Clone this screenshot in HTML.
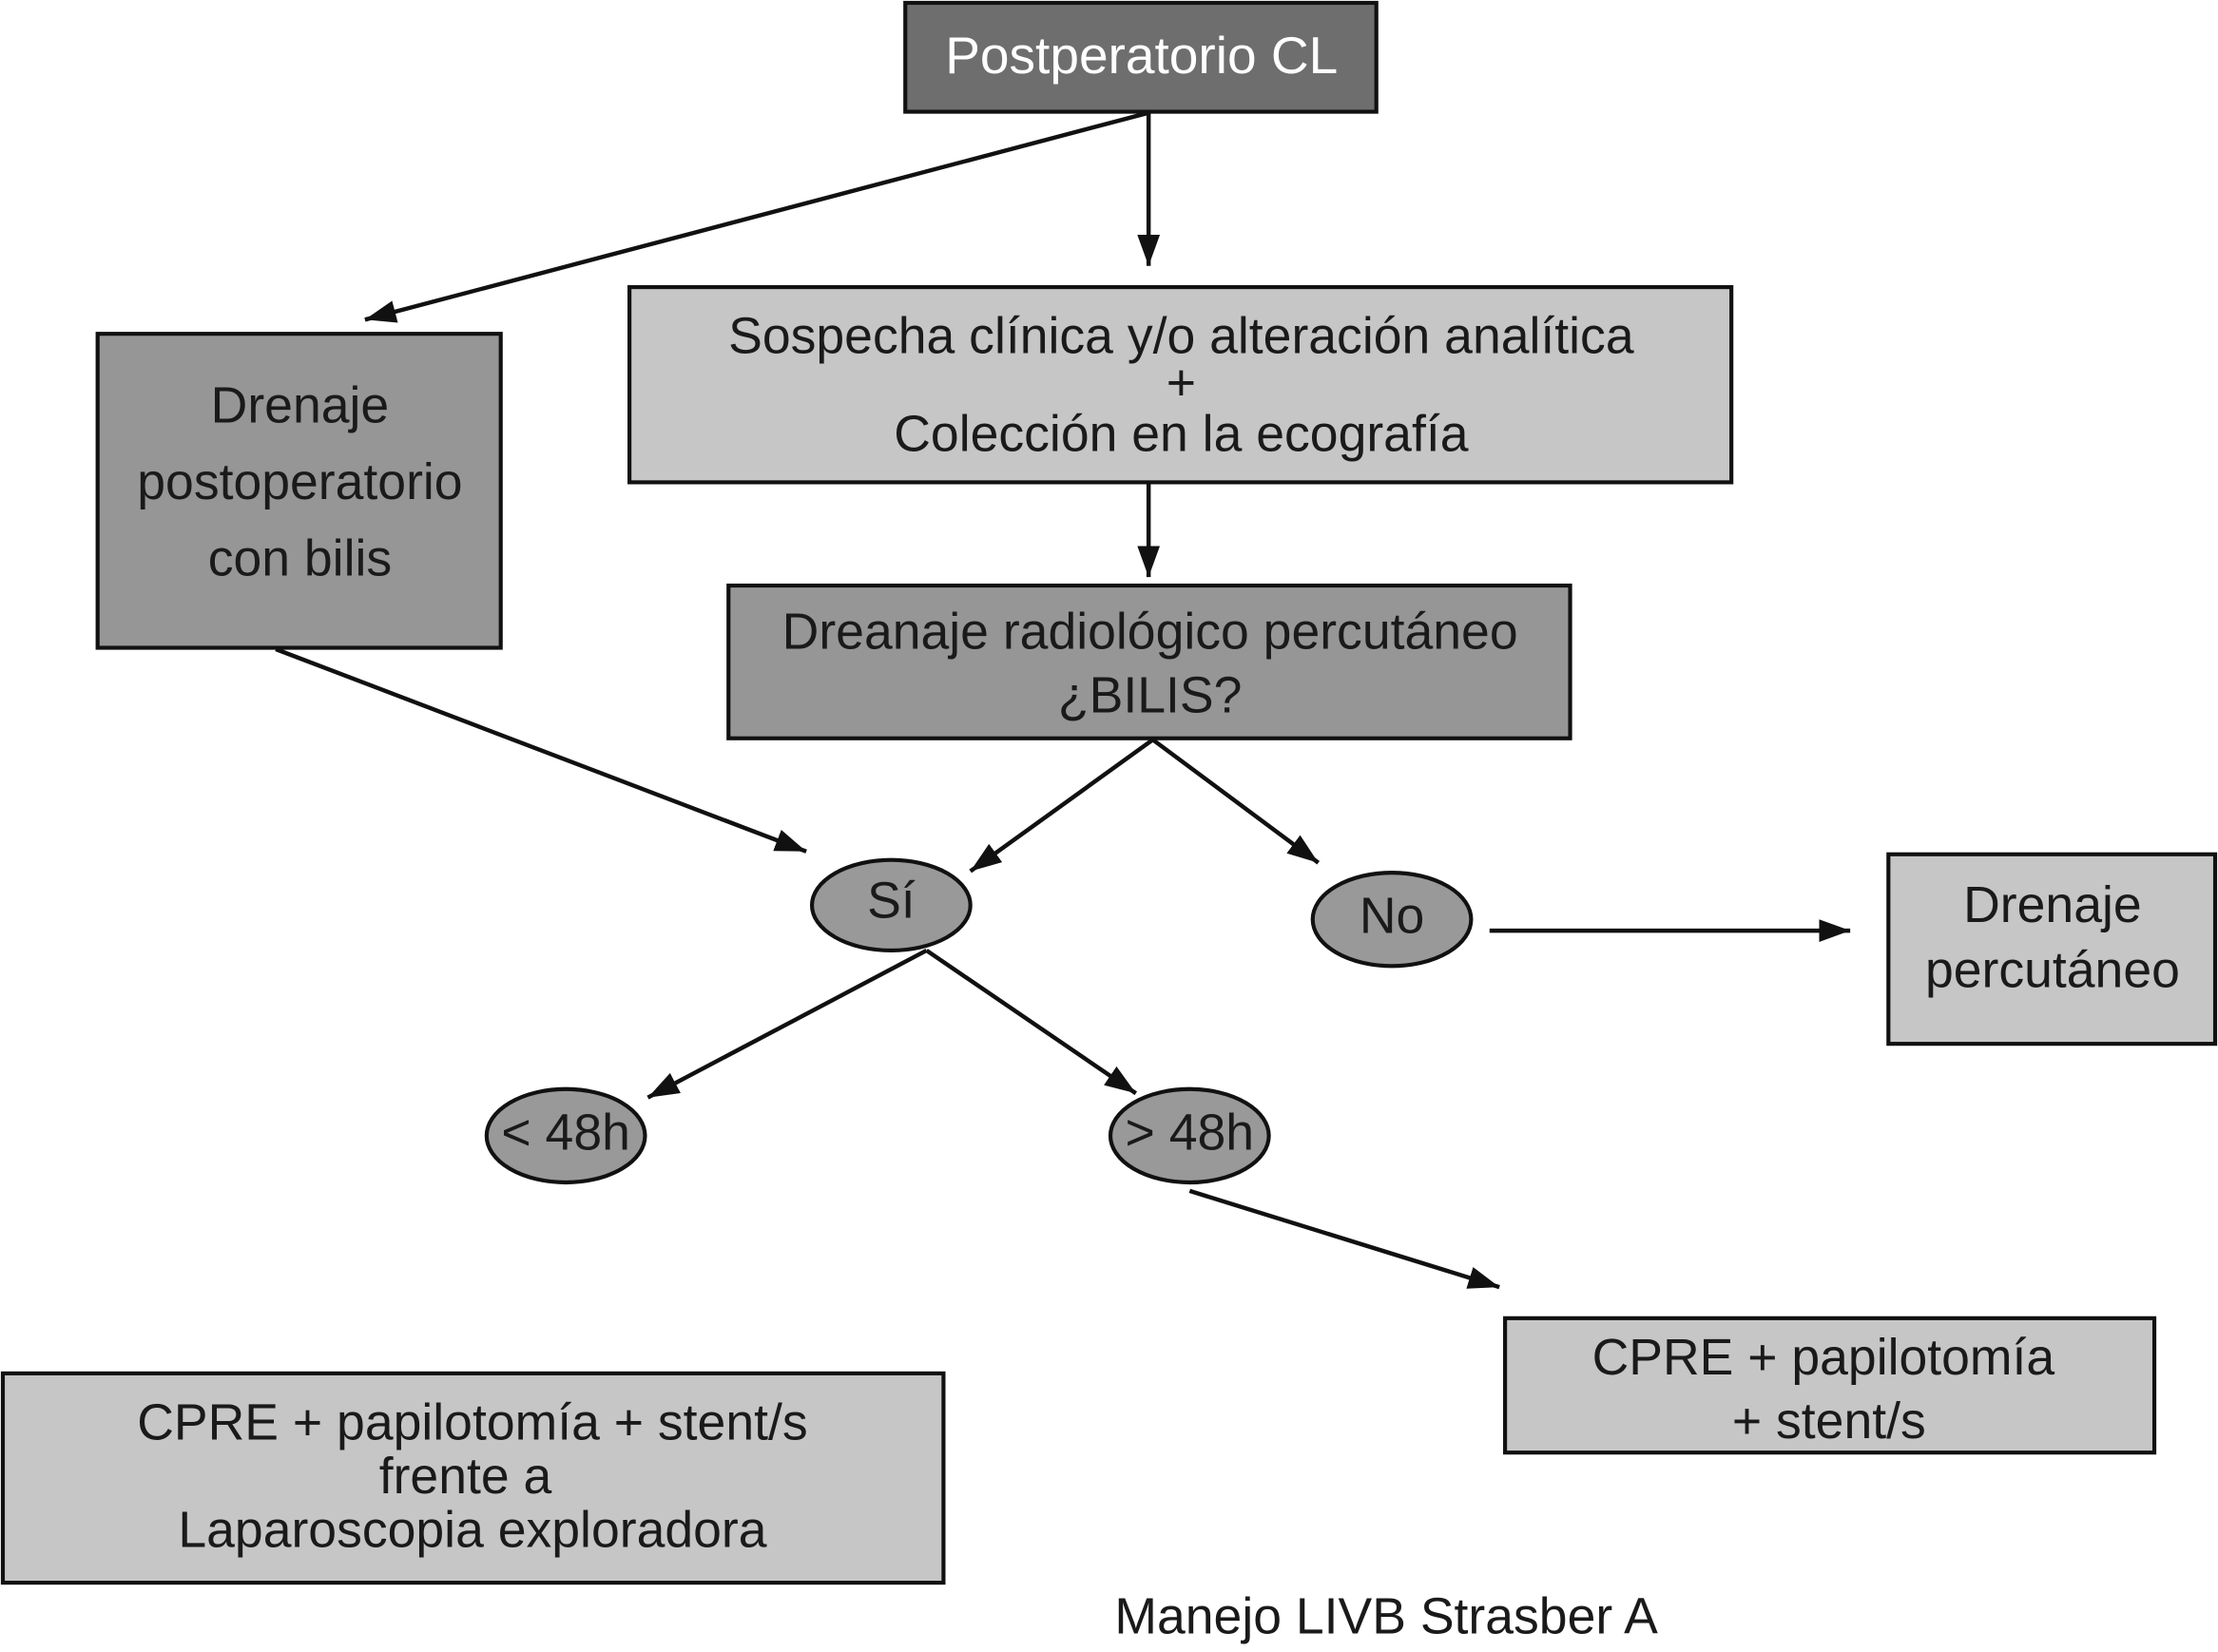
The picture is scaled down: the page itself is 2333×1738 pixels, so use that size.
<!DOCTYPE html>
<html><head><meta charset="utf-8"><style>html,body{margin:0;padding:0;background:#fff;}svg{display:block;}</style></head>
<body>
<svg width="2333" height="1738" viewBox="0 0 1568 1168" preserveAspectRatio="none" xmlns="http://www.w3.org/2000/svg" font-family="Liberation Sans, Arial, sans-serif">
<defs>
<marker id="ah" viewBox="0 0 22 16" refX="22" refY="8" markerWidth="22" markerHeight="16" markerUnits="userSpaceOnUse" orient="auto"><path d="M0,0 L22,8 L0,16 z" fill="#111"/></marker>
</defs>
<g stroke="#111" stroke-width="3" fill="none" marker-end="url(#ah)">
<line x1="812" y1="80" x2="812" y2="188"/>
<line x1="811" y1="80" x2="258" y2="226"/>
<line x1="812" y1="342" x2="812" y2="408"/>
<line x1="195" y1="459" x2="570" y2="602"/>
<line x1="815" y1="523" x2="686" y2="616"/>
<line x1="815" y1="523" x2="932" y2="610"/>
<line x1="655" y1="672" x2="458" y2="776"/>
<line x1="655" y1="672" x2="803" y2="773"/>
<line x1="1053" y1="658" x2="1308" y2="658"/>
<line x1="841" y1="842" x2="1060" y2="910"/>
</g>
<g stroke="#111" stroke-width="2.8">
<rect x="640" y="2" width="333" height="77" fill="#6e6e6e"/>
<rect x="445" y="203" width="779" height="138" fill="#c6c6c6"/>
<rect x="69" y="236" width="285" height="222" fill="#969696"/>
<rect x="515" y="414" width="595" height="108" fill="#969696"/>
<rect x="1335" y="604" width="231" height="134" fill="#c6c6c6"/>
<rect x="1064" y="932" width="459" height="95" fill="#c6c6c6"/>
<rect x="2" y="971" width="665" height="148" fill="#c6c6c6"/>
<ellipse cx="630" cy="640" rx="56" ry="32" fill="#999"/>
<ellipse cx="984" cy="650" rx="56" ry="33" fill="#999"/>
<ellipse cx="400" cy="803" rx="56" ry="33" fill="#999"/>
<ellipse cx="841" cy="803" rx="56" ry="33" fill="#999"/>
</g>
<g font-size="36" text-anchor="middle" fill="#1a1a1a" dominant-baseline="central">
<text x="807" y="39" fill="#fff" font-size="37">Postperatorio CL</text>
<text x="835" y="238">Sospecha clínica y/o alteración analítica</text>
<text x="835" y="271">+</text>
<text x="835" y="307">Colección en la ecografía</text>
<text x="212" y="287">Drenaje</text>
<text x="212" y="341">postoperatorio</text>
<text x="212" y="395">con bilis</text>
<text x="813" y="447">Dreanaje radiológico percutáneo</text>
<text x="813" y="492">¿BILIS?</text>
<text x="630" y="637">Sí</text>
<text x="984" y="648">No</text>
<text x="400" y="801">&lt; 48h</text>
<text x="841" y="801">&gt; 48h</text>
<text x="1451" y="640">Drenaje</text>
<text x="1451" y="686">percutáneo</text>
<text x="1289" y="960">CPRE + papilotomía</text>
<text x="1293" y="1005">+ stent/s</text>
<text x="334" y="1006">CPRE + papilotomía + stent/s</text>
<text x="329" y="1044">frente a</text>
<text x="334" y="1082">Laparoscopia exploradora</text>
<text x="980" y="1143">Manejo LIVB Strasber A</text>
</g>
</svg>
</body></html>
